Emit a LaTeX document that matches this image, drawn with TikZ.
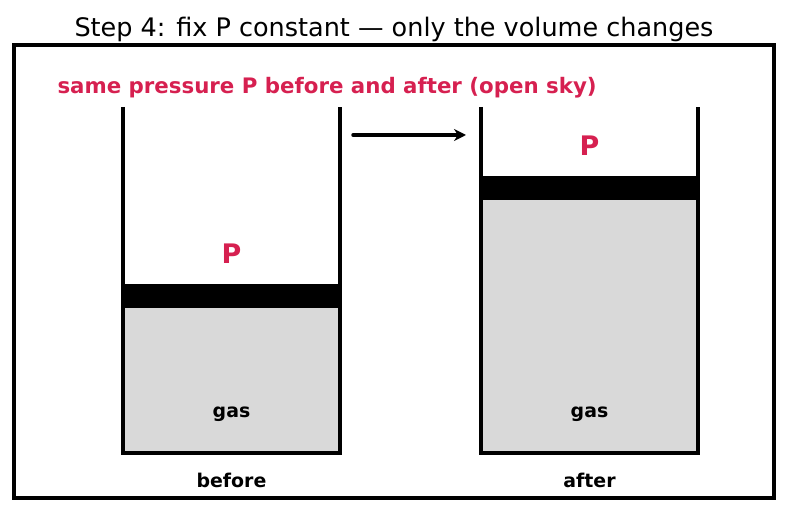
\documentclass[tikz,border=0pt]{standalone}
\usepackage{fontspec}
\setmainfont{DejaVu Sans}
\usetikzlibrary{arrows.meta}
\definecolor{pred}{HTML}{D62050}
\definecolor{gasgray}{HTML}{D9D9D9}

\begin{document}
\begin{tikzpicture}[x=1bp,y=-1bp,line join=miter,>={Stealth[length=12bp,width=12bp]}]
        \useasboundingbox (0,0) rectangle (787,512);
        \node (title) at (394,29) {\fontsize{25.6}{30}\selectfont Step 4: fix P constant — only the volume changes};
        \draw[line width=4bp] (14,45) rectangle (774,498);
        \node[anchor=west,text=pred,font=\bfseries] (note) at (54,88) {\fontsize{21.4}{25}\selectfont same pressure P before and after (open sky)};
        % the two cylinders: left edge / top of piston / name
        \foreach \x/\top/\nm in {123/284/before, 481/176/after}
        {
        \fill[gasgray] (\x,\top) rectangle (\x+217,453);
        \fill[black] (\x,\top) rectangle (\x+217,\top+24);
        \draw[line width=4bp] (\x,107) -- (\x,453) -- (\x+217,453) -- (\x+217,107);
        \node[text=pred,font=\bfseries] (p-\nm) at (\x+108.5,\top-30) {\fontsize{27}{32}\selectfont P};
        \node[font=\bfseries] (gas-\nm) at (\x+108.5,414) {\fontsize{19}{23}\selectfont gas};
        \node[font=\bfseries] (lab-\nm) at (\x+108.5,480) {\fontsize{19}{23}\selectfont \nm};
        }
        \coordinate (arr-a) at (353,135);
        \coordinate (arr-b) at (466,135);
        \draw[->,line width=3.5bp,line cap=round] (arr-a) -- (arr-b);
\end{tikzpicture}
\end{document}
